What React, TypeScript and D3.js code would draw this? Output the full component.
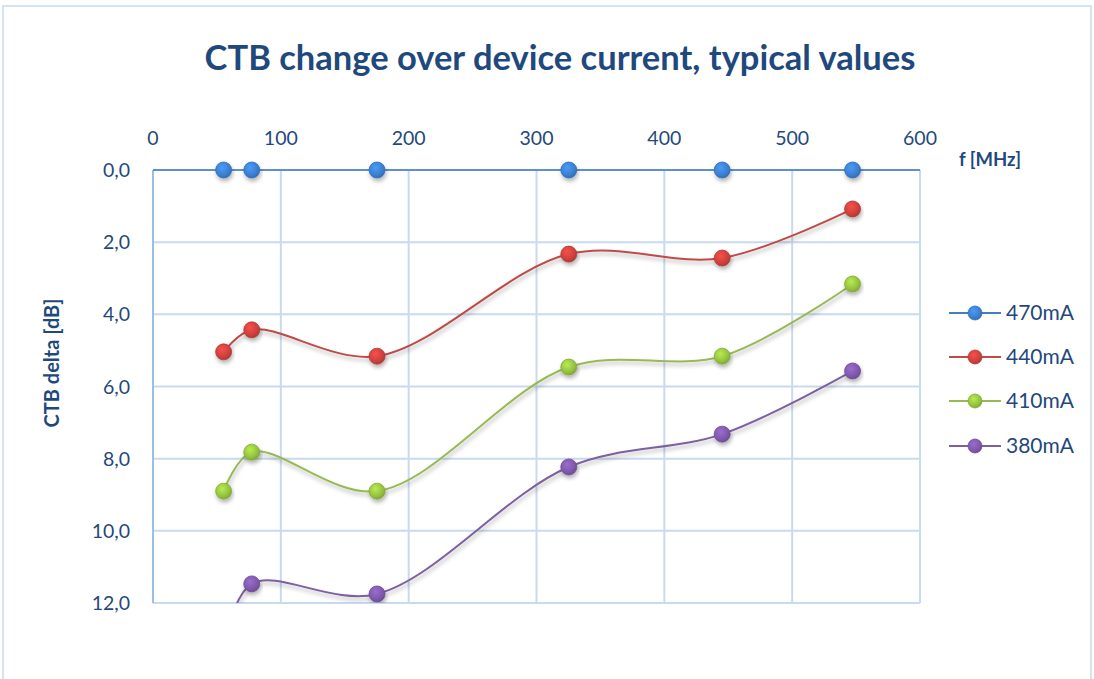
import React from 'react';
import * as d3 from 'd3';

const freqs = [55.25, 77.25, 175.25, 325.25, 445.25, 547.25];
const seriesNames = ['470mA', '440mA', '410mA', '380mA'];
const seriesColors = ['#3b7dcc', '#c9403c', '#93bf3f', '#7d57a8'];
const lineColors = ['#4a7ebb', '#be4b48', '#98b954', '#7d60a0'];
const ctb470 = [0, 0, 0, 0, 0, 0];
const ctb440 = [5.04, 4.43, 5.16, 2.33, 2.44, 1.08];
const ctb410 = [8.9, 7.82, 8.9, 5.46, 5.16, 3.16];
const ctb380 = [13.2, 11.47, 11.75, 8.23, 7.32, 5.57];
const allSeries = [ctb470, ctb440, ctb410, ctb380];
const xTicks = [0, 100, 200, 300, 400, 500, 600];
const yTicks = [0, 2, 4, 6, 8, 10, 12];

const W = 1094;
const H = 679;
const textColor = '#1f497d';
const font = 'Lato, "Open Sans", sans-serif';

const App = () => {
  const x = d3.scaleLinear().domain([0, 600]).range([153, 920]);
  const y = d3.scaleLinear().domain([0, 12]).range([170, 603]);
  const line = d3
    .line<[number, number]>()
    .x((d) => x(d[0]))
    .y((d) => y(d[1]))
    .curve(d3.curveCatmullRom.alpha(0.5));

  const legendY = [313, 357, 401, 446];

  return (
    <svg width={W} height={H} style={{ position: 'absolute', left: 0, top: 0 }} fontFamily={font}>
      <defs>
        <filter id="shadow" x="-20%" y="-20%" width="140%" height="160%">
          <feDropShadow dx="1" dy="3" stdDeviation="2" floodColor="#000" floodOpacity="0.3" />
        </filter>
        <clipPath id="plotClip">
          <rect x={x(0)} y={y(0) - 12} width={x(600) - x(0) + 12} height={y(12) - y(0) + 12} />
        </clipPath>
        {seriesColors.map((c, i) => (
          <radialGradient key={i} id={`mg${i}`} cx="40%" cy="35%" r="70%">
            <stop offset="0%" stopColor={d3.color(c)!.brighter(0.6).toString()} />
            <stop offset="70%" stopColor={c} />
            <stop offset="100%" stopColor={d3.color(c)!.darker(0.5).toString()} />
          </radialGradient>
        ))}
      </defs>
      <rect x={3} y={6} width={W - 6} height={H + 10} fill="#fff" stroke="#d5e2f2" strokeWidth={2} />

      <text x={560} y={70} textAnchor="middle" fontSize={34.5} fontWeight="bold" fill={textColor}>
        CTB change over device current, typical values
      </text>

      {/* grid */}
      {xTicks.map((t) => (
        <line key={`gx${t}`} x1={x(t)} x2={x(t)} y1={y(0)} y2={y(12)} stroke="#c8daf0" strokeWidth={2} />
      ))}
      {yTicks.map((t) => (
        <line key={`gy${t}`} x1={x(0)} x2={x(600)} y1={y(t)} y2={y(t)} stroke="#c8daf0" strokeWidth={2} />
      ))}
      <line x1={x(0)} x2={x(0)} y1={y(0)} y2={y(12)} stroke="#9dbde6" strokeWidth={2} />
      <line x1={x(0)} x2={x(600)} y1={y(0)} y2={y(0)} stroke="#5b8fd6" strokeWidth={2} />

      {xTicks.map((t) => (
        <text key={`tx${t}`} x={x(t)} y={145} textAnchor="middle" fontSize={19.5} fill={textColor}>
          {t}
        </text>
      ))}
      {yTicks.map((t) => (
        <text key={`ty${t}`} x={130} y={y(t) + 7} textAnchor="end" fontSize={19.5} fill={textColor}>
          {d3.format('.1f')(t).replace('.', ',')}
        </text>
      ))}
      <text x={990} y={166} textAnchor="middle" fontSize={18.5} fontWeight="bold" fill={textColor}>
        f [MHz]
      </text>
      <text
        transform={`translate(59,${363}) rotate(-90)`}
        textAnchor="middle"
        fontSize={20}
        fontWeight="bold"
        fill={textColor}
      >
        CTB delta [dB]
      </text>

      <g clipPath="url(#plotClip)">
        {allSeries.map((s, i) => (
          <path
            key={`l${i}`}
            d={line(freqs.map((f, j) => [f, s[j]]))!}
            fill="none"
            stroke={lineColors[i]}
            strokeWidth={2}
            filter="url(#shadow)"
          />
        ))}
        {allSeries.map((s, i) =>
          freqs.map((f, j) => (
            <circle
              key={`m${i}-${j}`}
              cx={x(f)}
              cy={y(s[j])}
              r={8}
              fill={`url(#mg${i})`}
              stroke={d3.color(seriesColors[i])!.darker(0.3).toString()}
              strokeWidth={0.8}
              filter="url(#shadow)"
            />
          ))
        )}
      </g>

      {seriesNames.map((n, i) => (
        <g key={n}>
          <line x1={949} x2={1001} y1={legendY[i]} y2={legendY[i]} stroke={lineColors[i]} strokeWidth={2} />
          <circle cx={975} cy={legendY[i]} r={7} fill={`url(#mg${i})`} stroke={d3.color(seriesColors[i])!.darker(0.3).toString()} strokeWidth={0.8} />
          <text x={1006} y={legendY[i] + 7} fontSize={21} fill={textColor}>
            {n}
          </text>
        </g>
      ))}
    </svg>
  );
};

export default App;
